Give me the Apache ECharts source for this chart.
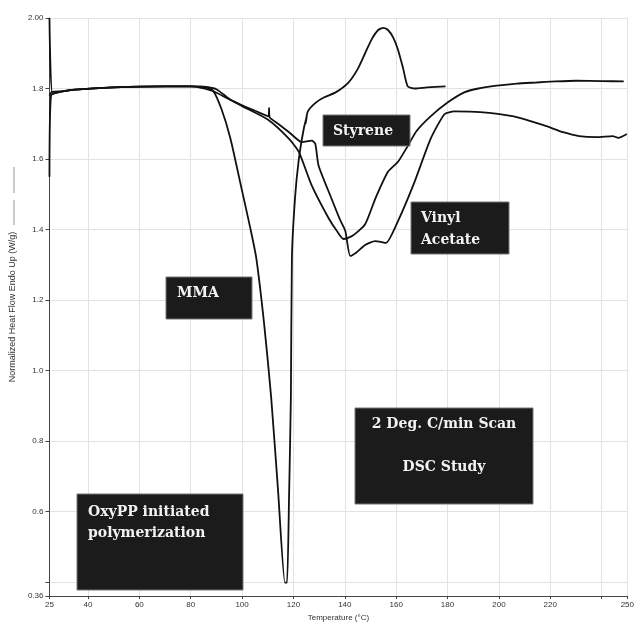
<!DOCTYPE html>
<html>
<head>
<meta charset="utf-8">
<script src="https://cdn.jsdelivr.net/npm/echarts@6/dist/echarts.min.js"></script>
<style>html,body{margin:0;padding:0;background:#fff}#c{width:637px;height:627px}</style>
</head>
<body>
<div id="c"></div>
<script>
// ---- data ----
var xTicks = [25, 40, 60, 80, 100, 120, 140, 160, 180, 200, 220, 240, 250];
var xTickLabels = ['25', '40', '60', '80', '100', '120', '140', '160', '180', '200', '220', '', '250'];
var yTicks = [0.36, 0.4, 0.6, 0.8, 1.0, 1.2, 1.4, 1.6, 1.8, 2.0];
var yTickLabels = ['0.36', '', '0.6', '0.8', '1.0', '1.2', '1.4', '1.6', '1.8', '2.00'];

var mmaTemp = [25, 26.2, 30, 35, 50, 70, 80, 84, 88.6, 92.0, 95.5, 99.8, 103.2, 105.5, 108.6, 111.3, 114.0, 116.7, 117.5, 118.3, 119.0, 119.4, 120.6, 122.1, 124.0, 125.2, 124.7, 125.6, 128.7, 132, 136.4, 141.4, 145, 147.9, 150.5, 153.0, 155, 156.8, 158.8, 160.7, 162.6, 164.5, 167.2, 172, 179.2];
var mmaFlow = [2.00, 1.785, 1.792, 1.797, 1.803, 1.806, 1.806, 1.805, 1.794, 1.741, 1.657, 1.516, 1.404, 1.320, 1.131, 0.926, 0.660, 0.398, 0.398, 0.646, 0.926, 1.320, 1.488, 1.600, 1.685, 1.721, 1.700, 1.735, 1.760, 1.775, 1.789, 1.817, 1.855, 1.900, 1.940, 1.966, 1.972, 1.966, 1.945, 1.910, 1.860, 1.806, 1.800, 1.803, 1.806];

var styTemp = [25, 25.6, 30, 35, 50, 70, 80, 84, 88.6, 100, 110, 118.3, 122.1, 127.1, 133.7, 137, 139.5, 143, 147.9, 152, 156.8, 160.7, 164.5, 168, 173.4, 180, 186.5, 192, 199.2, 207, 214.6, 222, 230.1, 240, 248.6];
var styFlow = [1.55, 1.78, 1.792, 1.797, 1.803, 1.806, 1.806, 1.802, 1.793, 1.750, 1.712, 1.657, 1.620, 1.525, 1.432, 1.395, 1.373, 1.382, 1.415, 1.490, 1.564, 1.592, 1.637, 1.680, 1.721, 1.760, 1.789, 1.800, 1.808, 1.814, 1.817, 1.820, 1.822, 1.821, 1.820];

var vaTemp = [25, 25.8, 30, 35, 50, 70, 80, 85, 90, 95.1, 100, 105, 110.3, 110.5, 110.7, 114, 118.3, 123.3, 127.1, 128.5, 129.8, 134.8, 138, 140.2, 142.1, 144.5, 147.9, 151.8, 154, 156.0, 160.7, 167.2, 173.4, 178.8, 182.6, 192.7, 205.8, 212, 218.5, 225.0, 231.2, 238, 244.3, 246.5, 249.8];
var vaFlow = [1.78, 1.79, 1.792, 1.797, 1.803, 1.806, 1.806, 1.805, 1.798, 1.770, 1.752, 1.737, 1.721, 1.745, 1.719, 1.700, 1.676, 1.648, 1.652, 1.643, 1.581, 1.488, 1.430, 1.396, 1.325, 1.335, 1.356, 1.367, 1.365, 1.362, 1.424, 1.536, 1.657, 1.727, 1.735, 1.733, 1.721, 1.708, 1.693, 1.676, 1.665, 1.662, 1.665, 1.660, 1.671];

function zip(xs, ys) { return xs.map(function (x, i) { return [x, ys[i]]; }); }

var chart = echarts.init(document.getElementById('c'), null, { renderer: 'canvas' });

var boxFont = 'bold 14px "DejaVu Serif"';
function box(x, y, w, h, lines, align, tx, ty, lh) {
  var children = [{
    type: 'rect', z: 100, shape: { x: 0, y: 0, width: w, height: h },
    style: { fill: '#1b1b1b', stroke: '#777', lineWidth: 1 }
  }];
  lines.forEach(function (t, i) {
    children.push({
      type: 'text', z: 101, x: tx, y: ty + i * lh,
      style: { text: t, fill: '#f2f2f2', font: boxFont, align: align, verticalAlign: 'middle' }
    });
  });
  return { type: 'group', x: x, y: y, z: 100, children: children };
}

var lineStyle = { color: '#111', width: 1.8 };
function series(name, xs, ys) {
  return {
    name: name, type: 'line', data: zip(xs, ys), showSymbol: false, smooth: 0.2,
    lineStyle: lineStyle, itemStyle: { color: '#111' }, z: 3, animation: false
  };
}

chart.setOption({
  backgroundColor: '#fff',
  animation: false,
  grid: { left: 48, right: 6, top: 18, bottom: 24, containLabel: false },
  xAxis: {
    type: 'value', min: 25, max: 250,
    name: 'Temperature (°C)', nameLocation: 'middle', nameGap: 13,
    nameTextStyle: { fontFamily: 'Liberation Sans', fontSize: 8, color: '#333' },
    axisLine: { lineStyle: { color: '#444', width: 1 } },
    axisTick: { show: true, length: 3, customValues: xTicks, lineStyle: { color: '#444' } },
    axisLabel: {
      customValues: xTicks, fontFamily: 'Liberation Sans', fontSize: 8, color: '#333', margin: 5,
      formatter: function (v) { var i = xTicks.indexOf(v); return i >= 0 ? xTickLabels[i] : ''; }
    },
    splitLine: { show: true, lineStyle: { color: '#e2e2e2', width: 1 } }
  },
  yAxis: {
    type: 'value', min: 0.36, max: 2.0,
    name: 'Normalized Heat Flow Endo Up (W/g)', nameLocation: 'middle', nameGap: 30, nameRotate: 90,
    nameTextStyle: { fontFamily: 'Liberation Sans', fontSize: 9, color: '#333' },
    axisLine: { show: true, lineStyle: { color: '#444', width: 1 } },
    axisTick: { show: true, length: 4, customValues: yTicks, lineStyle: { color: '#444' } },
    axisLabel: {
      customValues: yTicks, fontFamily: 'Liberation Sans', fontSize: 8, color: '#333', margin: 6,
      formatter: function (v) {
        for (var i = 0; i < yTicks.length; i++) if (Math.abs(yTicks[i] - v) < 1e-6) return yTickLabels[i];
        return '';
      }
    },
    splitLine: { show: true, lineStyle: { color: '#e2e2e2', width: 1 } }
  },
  series: [
    series('MMA', mmaTemp, mmaFlow),
    series('Styrene', styTemp, styFlow),
    series('Vinyl Acetate', vaTemp, vaFlow)
  ],
  graphic: [
    { type: 'line', shape: { x1: 14, y1: 167, x2: 14, y2: 193 }, style: { stroke: '#999', lineWidth: 1 } },
    { type: 'line', shape: { x1: 14, y1: 200, x2: 14, y2: 225 }, style: { stroke: '#999', lineWidth: 1 } },
    box(323, 115, 87, 31, ['Styrene'], 'left', 10, 16, 0),
    box(411, 202, 98, 52, ['Vinyl', 'Acetate'], 'left', 10, 16, 22),
    box(166, 277, 86, 42, ['MMA'], 'left', 11, 16, 0),
    box(355, 408, 178, 96, ['2 Deg. C/min Scan', 'DSC Study'], 'center', 89, 16, 43),
    box(77, 494, 166, 96, ['OxyPP initiated', 'polymerization'], 'left', 11, 18, 21)
  ]
});
</script>
</body>
</html>
